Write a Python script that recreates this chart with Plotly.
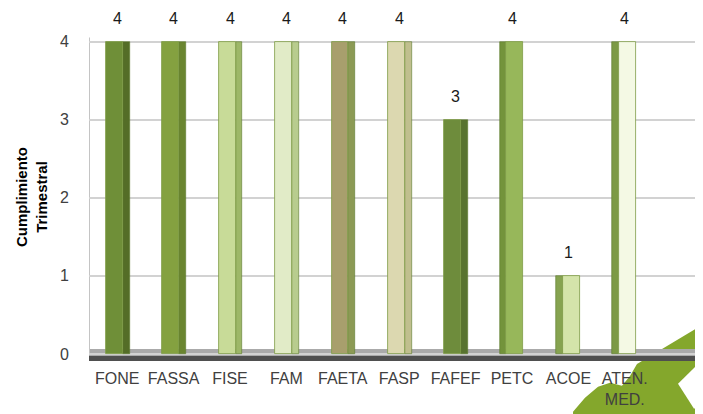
import plotly.graph_objects as go

categories = ["FONE", "FASSA", "FISE", "FAM", "FAETA", "FASP", "FAFEF", "PETC", "ACOE", "ATEN.<br>MED."]
values = [4, 4, 4, 4, 4, 4, 3, 4, 1, 4]
front_colors = ["#6f8f38", "#84a140", "#c8db98", "#e1ebc7", "#a89f6d", "#dcd8b0",
                "#6e8c3c", "#97b75a", "#d4e4aa", "#f4f9e4"]
side_colors = ["#546d27", "#6a8530", "#9db768", "#b8cc8e", "#8c9a55", "#c0bf8e",
               "#58732f", "#73933b", "#86a350", "#7c9a45"]
y_ticks = [0, 1, 2, 3, 4]

OFF = 8  # page body margin
W, H = 703 - OFF, 414 - OFF
L, R, T, B = 89 - OFF, 6, 14, 51
pw, ph = W - L - R, H - T - B
FONT = "Liberation Sans, Arial"


def px(xp, yp):
    """screen pixel -> paper coords"""
    return (xp - OFF - L) / pw, (H - B - (yp - OFF)) / ph


x = list(range(len(categories)))
front_off, side_off = [], []
for i in x:
    if i <= 6:
        front_off.append(-0.2)
        side_off.append(0.1)
    else:
        front_off.append(-0.1)
        side_off.append(-0.22)

fig = go.Figure()
fig.add_trace(go.Bar(x=x, y=values, width=[0.12] * len(x), offset=side_off,
                     marker=dict(color=side_colors, line=dict(color="#5c7a2c", width=0.6)),
                     hoverinfo="skip", showlegend=False))
fig.add_trace(go.Bar(x=x, y=values, width=[0.3] * len(x), offset=front_off,
                     marker=dict(color=front_colors, line=dict(color="#7d9a45", width=0.8)),
                     showlegend=False))

XR = [-0.5, 10.28]
shapes = []
# floor
shapes.append(dict(type="rect", xref="x", yref="y", x0=XR[0], x1=XR[1], y0=-0.025, y1=0.065,
                   fillcolor="#aaaaaa", line=dict(width=0), layer="below"))
shapes.append(dict(type="rect", xref="x", yref="y", x0=XR[0], x1=XR[1], y0=-0.09, y1=-0.025,
                   fillcolor="#4f4f4f", line=dict(width=0), layer="below"))
# left wall
shapes.append(dict(type="line", xref="x", yref="y", x0=XR[0], x1=XR[0], y0=0, y1=4.05,
                   line=dict(color="#c4c4c4", width=2), layer="below"))


def poly(points, color):
    pts = [px(a, b) for a, b in points]
    path = "M " + " L ".join(f"{a:.4f},{b:.4f}" for a, b in pts) + " Z"
    return dict(type="path", xref="paper", yref="paper", path=path,
                fillcolor=color, line=dict(width=0), layer="below")


shapes.append(poly([(573, 420), (573, 414), (585, 400), (598, 389), (610, 385), (622, 388),
                    (630, 378), (637, 366), (695, 331), (710, 338), (710, 420)], "#84a72c"))
shapes.append(poly([(678, 386), (700, 364), (710, 370), (710, 405), (694, 411)], "#ffffff"))

annotations = []
for i, v in zip(x, values):
    annotations.append(dict(x=i, y=v, text=str(v), showarrow=False, yanchor="bottom",
                            yshift=13, font=dict(size=16, color="#1a1a1a", family=FONT)))
ax, ay = px(32, 198)
annotations.append(dict(xref="paper", yref="paper", x=ax, y=ay, xanchor="center",
                        yanchor="middle",
                        text="<b>Cumplimiento<br>Trimestral</b>", textangle=-90,
                        showarrow=False, font=dict(size=15, color="#000000", family=FONT)))

fig.update_layout(
    width=W, height=H, margin=dict(l=L, r=R, t=T, b=B),
    paper_bgcolor="white", plot_bgcolor="white",
    barmode="overlay", bargap=0,
    shapes=shapes, annotations=annotations,
    xaxis=dict(range=XR, tickvals=x, ticktext=categories,
               showgrid=False, zeroline=False, showline=False,
               ticks="", ticklen=0, ticklabelstandoff=6,
               tickfont=dict(size=16, color="#404040", family=FONT)),
    yaxis=dict(range=[-0.09, 4.25], tickvals=y_ticks, showgrid=True,
               gridcolor="#d2d2d2", gridwidth=1.5, zeroline=False, showline=False,
               ticks="outside", ticklen=16, tickcolor="rgba(0,0,0,0)",
               tickfont=dict(size=16, color="#404040", family=FONT)),
)

fig.write_html("out.html")
